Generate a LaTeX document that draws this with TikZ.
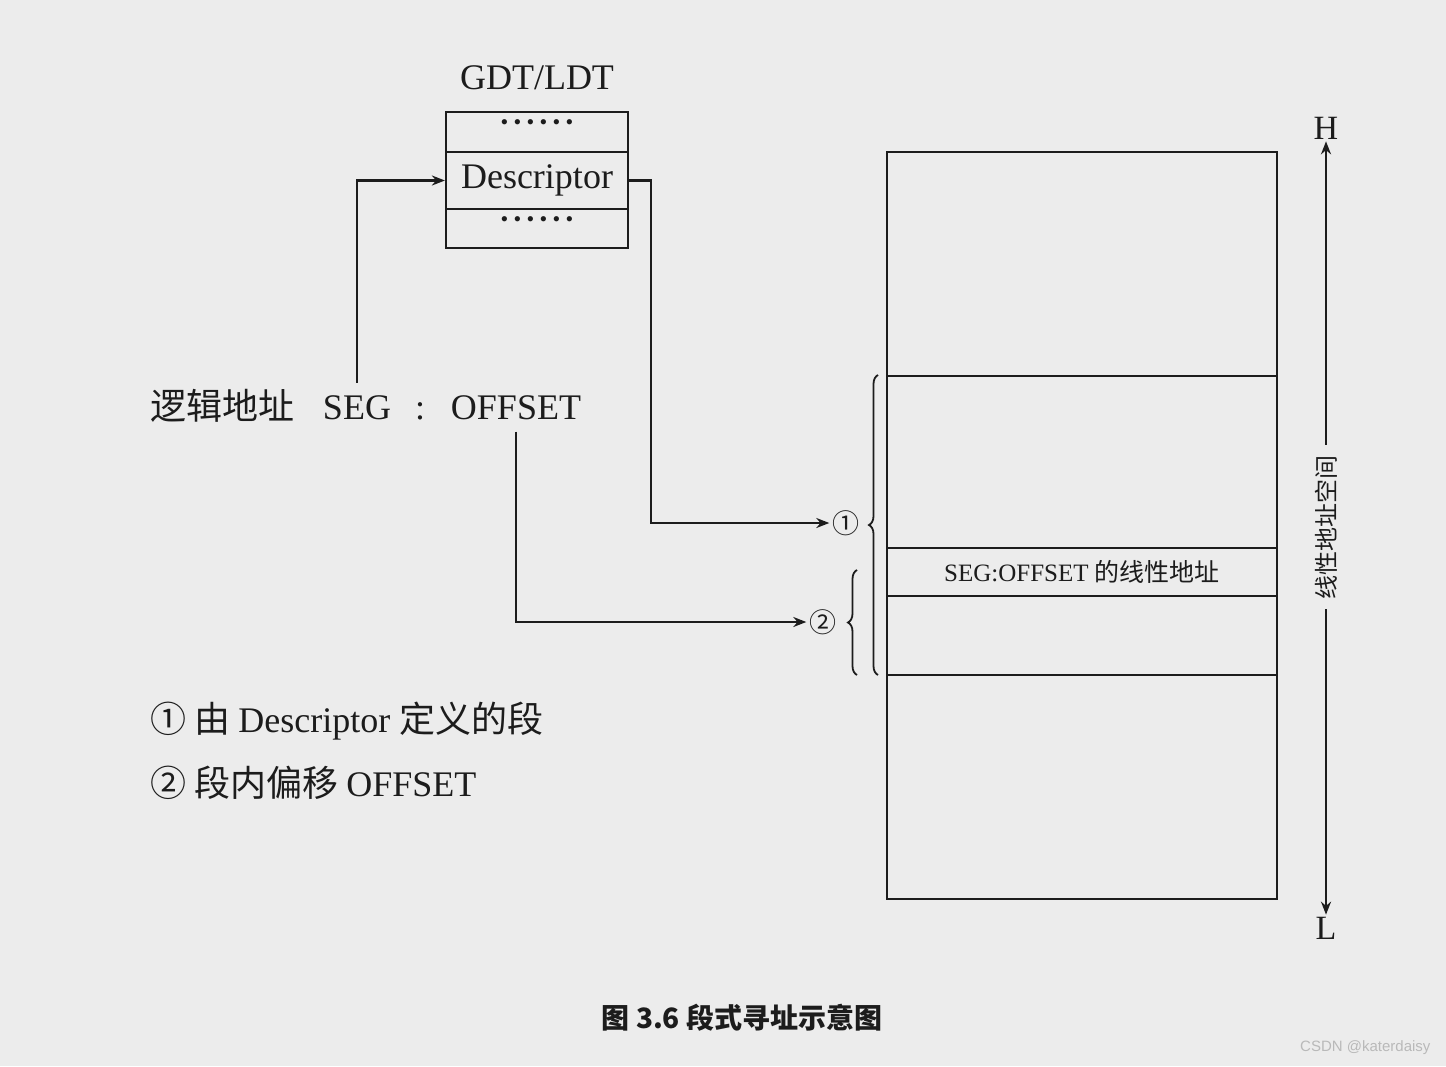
\documentclass[tikz,border=0pt]{standalone}
\usepackage{fontspec}
\setmainfont{Liberation Serif}
\newfontfamily\cjk{Noto Sans CJK SC}
\newfontfamily\wmfont{Liberation Sans}
\usetikzlibrary{arrows.meta,decorations.pathreplacing,positioning}
\definecolor{paper}{RGB}{236,236,236}
\definecolor{ink}{RGB}{28,28,28}
\newcommand\dotrow{\foreach\i in{1,...,6}{\makebox[13pt]{\fontsize{22}{22}\selectfont\textbullet}}}
\tikzset{
  cell/.style={draw=ink,line width=2.2pt,minimum width=182pt,inner sep=0pt},
  lbl/.style={text=ink,font=\fontsize{36}{40}\selectfont,inner sep=12pt,anchor=base},
  arr/.style={draw=ink,line width=2.2pt,-{Stealth[length=13pt,width=10pt]}},
  wire/.style={draw=ink,line width=2.2pt},
  brc/.style={draw=ink,line width=1.8pt,decorate,decoration={brace,amplitude=9pt}}
}
\begin{document}
\begin{tikzpicture}[x=1pt,y=-1pt]
  \fill[paper](0,0)rectangle(1446,1066);
  \useasboundingbox(0,0)rectangle(1446,1066);
  \node[lbl,anchor=center](gdt)at(537,78){GDT/LDT};
  \node[cell,minimum height=40pt](rowa)at(537,132){};
  \node[cell,minimum height=57pt,font=\fontsize{36}{40}\selectfont,text=ink](desc)at(537,180.5){Descriptor};
  \node[cell,minimum height=39pt](rowb)at(537,228.5){};
  \node[inner sep=0pt,text=ink](dota)at(537,125){\dotrow};
  \node[inner sep=0pt,text=ink](dotb)at(537,222){\dotrow};

  \node[lbl](lgc)at(222,419){\cjk 逻辑地址};
  \node[lbl](seg)at(357,419){SEG};
  \node[lbl](colon)at(420,419){:};
  \node[lbl](off)at(516,419){OFFSET};

  \node[text=ink,font=\fontsize{27}{28}\cjk,inner sep=3pt](c1)at(846,523){①};
  \node[text=ink,font=\fontsize{27}{28}\cjk,inner sep=3pt](c2)at(823,622){②};
  \draw[arr](seg.north)|-(desc.west);
  \draw[arr](desc.east)--++(22,0)|-(c1.west);
  \draw[arr](off.south)|-(c2.west);
  \draw[brc](878,675)--(878,375);
  \draw[brc](857,675)--(857,570);

  \node[draw=ink,line width=2.2pt,minimum width=390pt,minimum height=747pt,inner sep=0pt](space)at(1082,525.5){};
  \foreach\y in{376,548,596,675}
    \draw[wire](887,\y)--(1277,\y);
  \node[text=ink,font=\fontsize{25}{28}\selectfont](segoff)at(1082,572){SEG:OFFSET \cjk 的线性地址};

  \node[text=ink,font=\fontsize{34}{36}\selectfont,inner sep=2pt](hi)at(1326,128){H};
  \node[text=ink,font=\fontsize{34}{36}\selectfont,inner sep=2pt](lo)at(1326,928){L};
  \node[rotate=90,text=ink,font=\fontsize{24}{26}\cjk,inner sep=10pt](axl)at(1326,527){线性地址空间};
  \draw[arr](axl.east)--(hi.south);
  \draw[arr](axl.west)--(lo.north);

  \node[lbl,anchor=base west,inner sep=0pt,font=\fontsize{36}{40}\selectfont](n1)at(150,732){\cjk ① 由 \rmfamily Descriptor \cjk 定义的段};
  \node[lbl,anchor=base west,inner sep=0pt,font=\fontsize{36}{40}\selectfont](n2)at(150,796){\cjk ② 段内偏移 \rmfamily OFFSET};

  \node[text=ink,font=\fontsize{28}{30}\cjk\bfseries](cap)at(742,1018){图 3.6 段式寻址示意图};
  \node[text=gray!55,font=\fontsize{15}{16}\wmfont,anchor=east](wm)at(1434,1048){CSDN @katerdaisy};
\end{tikzpicture}
\end{document}
